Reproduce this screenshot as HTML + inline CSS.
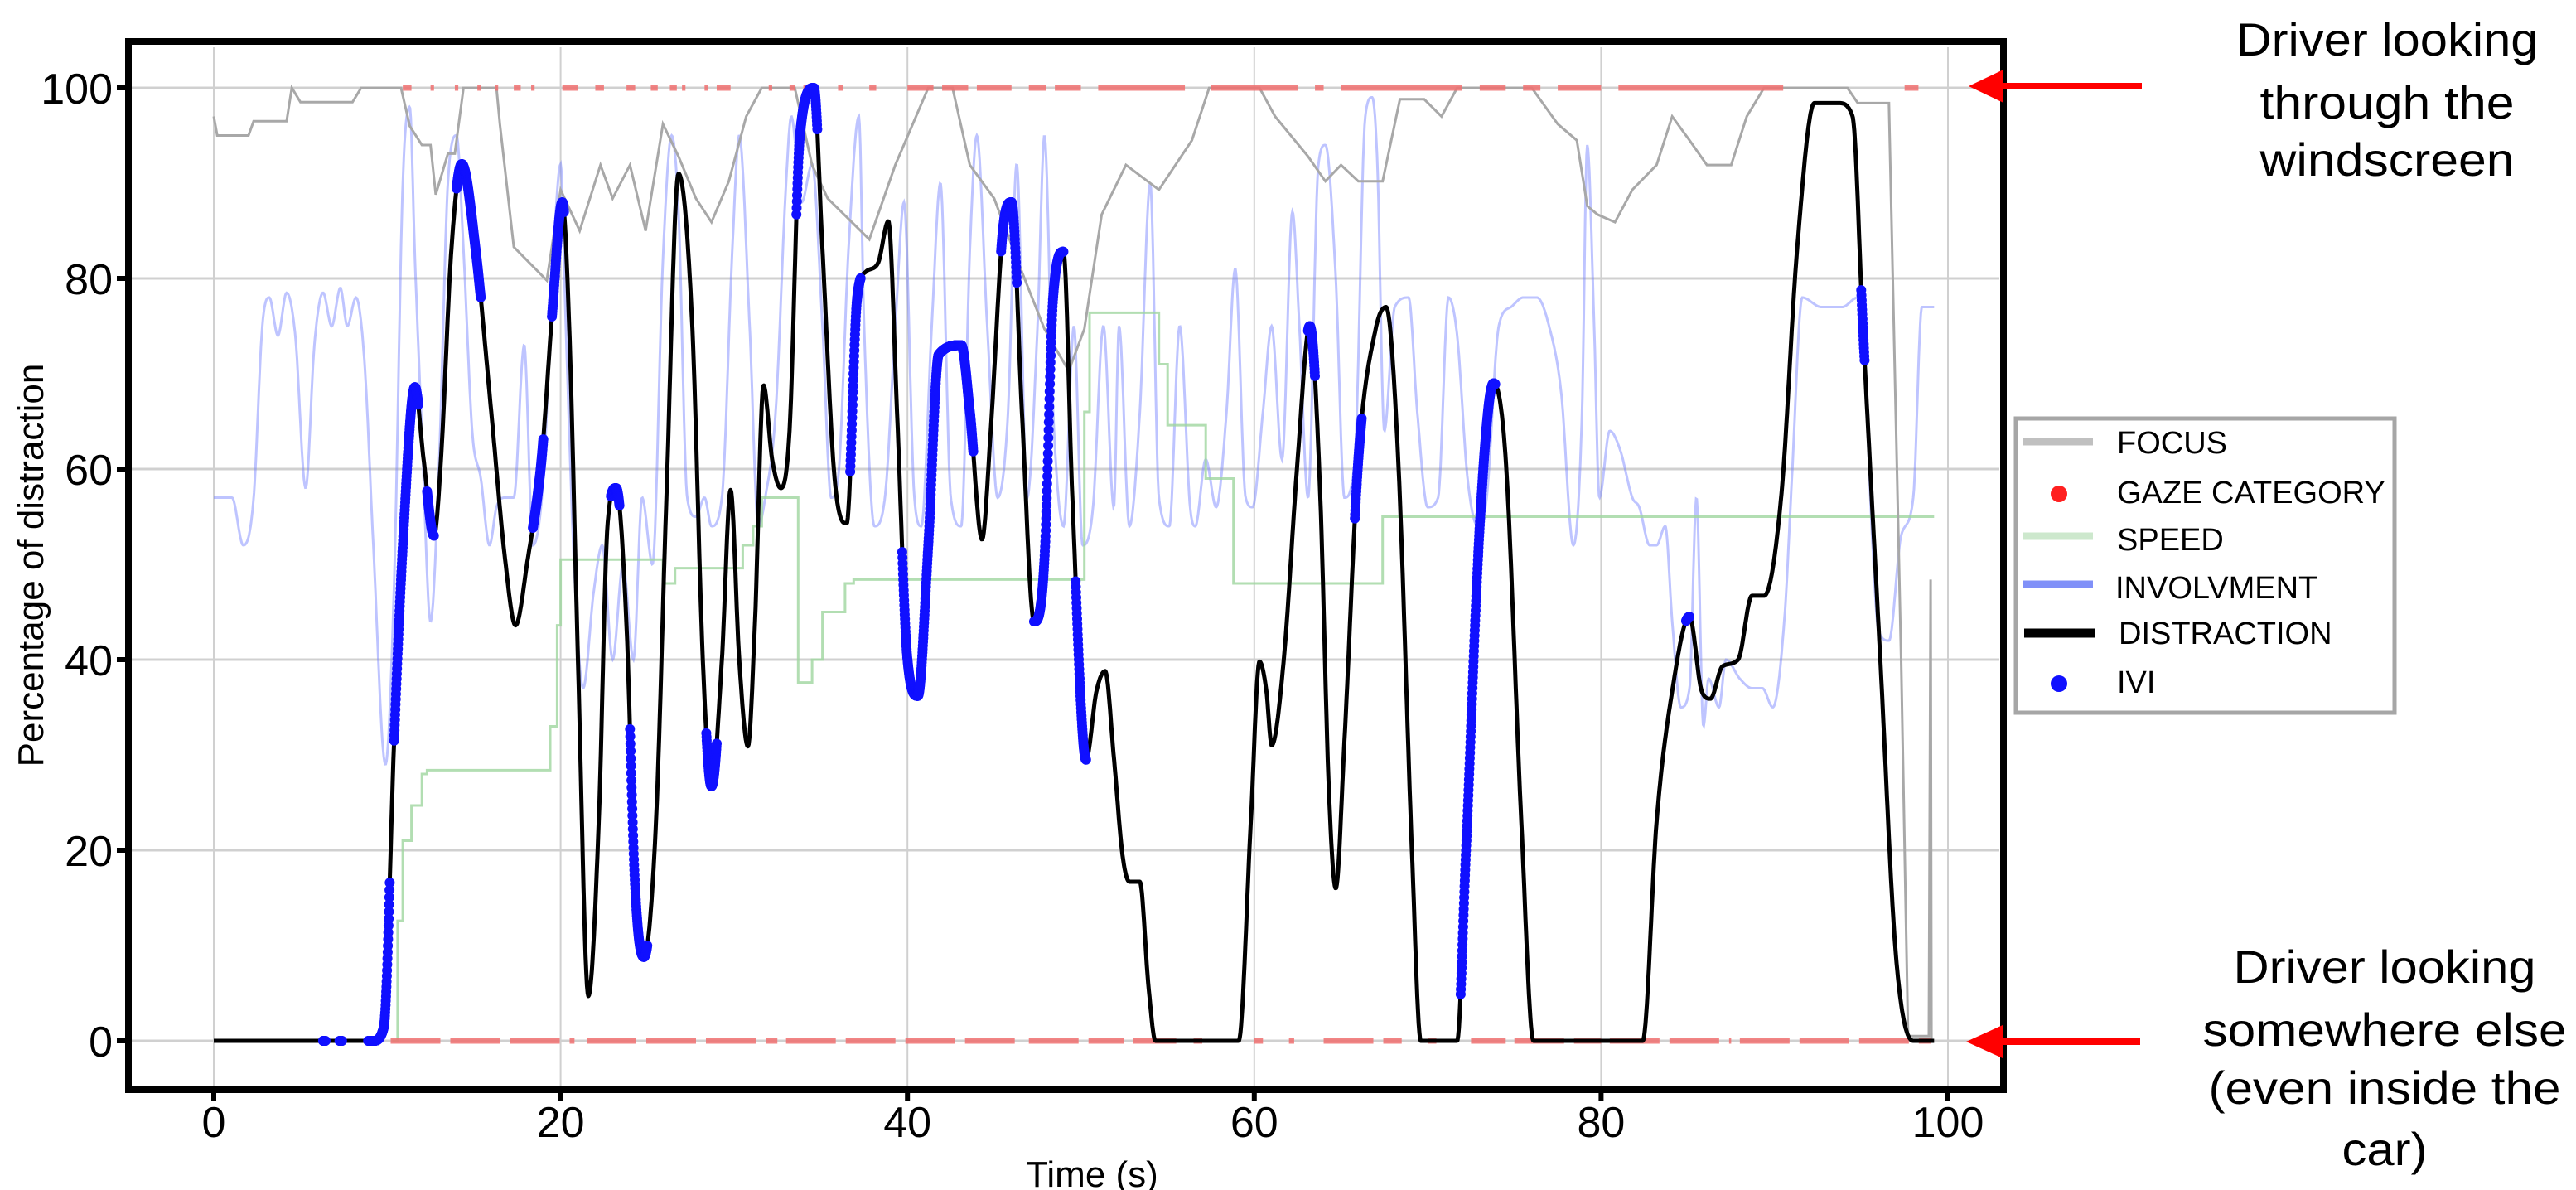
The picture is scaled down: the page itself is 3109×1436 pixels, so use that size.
<!DOCTYPE html>
<html><head><meta charset="utf-8">
<style>
html,body{margin:0;padding:0;background:#fff;}
svg{display:block;}
text{font-family:"Liberation Sans",sans-serif;fill:#000;}
</style></head>
<body>
<svg id="chart" width="3109" height="1436" viewBox="0 0 3109 1436" xmlns="http://www.w3.org/2000/svg">
<g id="grid"></g>
<g id="series"></g>
<g id="axes"></g>
<g>
  <line x1="2410" y1="104" x2="2585" y2="104" stroke="#ff0000" stroke-width="8"/>
  <polygon points="2376,104 2418,84 2418,124" fill="#ff0000"/>
  <text x="2881" y="67" font-size="56" text-anchor="middle" textLength="365" lengthAdjust="spacingAndGlyphs">Driver looking</text>
  <text x="2881" y="143" font-size="56" text-anchor="middle" textLength="307" lengthAdjust="spacingAndGlyphs">through the</text>
  <text x="2881" y="212" font-size="56" text-anchor="middle" textLength="307" lengthAdjust="spacingAndGlyphs">windscreen</text>
</g>
<g>
  <line x1="2410" y1="1257" x2="2583" y2="1257" stroke="#ff0000" stroke-width="8"/>
  <polygon points="2373,1257 2417,1237 2417,1277" fill="#ff0000"/>
  <text x="2878" y="1186" font-size="56" text-anchor="middle" textLength="365" lengthAdjust="spacingAndGlyphs">Driver looking</text>
  <text x="2878" y="1262" font-size="56" text-anchor="middle" textLength="439" lengthAdjust="spacingAndGlyphs">somewhere else</text>
  <text x="2878" y="1332" font-size="56" text-anchor="middle" textLength="425" lengthAdjust="spacingAndGlyphs">(even inside the</text>
  <text x="2878" y="1406" font-size="56" text-anchor="middle" textLength="103" lengthAdjust="spacingAndGlyphs">car)</text>
</g>
<g>
  <rect x="2433" y="505" width="457" height="355" fill="#fff" stroke="#a6a6a6" stroke-width="5"/>
  <g>
    <line x1="2441" y1="533" x2="2526" y2="533" stroke="#c0c0c0" stroke-width="9"/>
    <text x="2555" y="547" font-size="38">FOCUS</text>
  </g>
  <g>
    <circle cx="2485" cy="596" r="10" fill="#ff2020"/>
    <text x="2555" y="607" font-size="38">GAZE CATEGORY</text>
  </g>
  <g>
    <line x1="2441" y1="647" x2="2526" y2="647" stroke="#cde8cd" stroke-width="9"/>
    <text x="2555" y="664" font-size="38">SPEED</text>
  </g>
  <g>
    <line x1="2441" y1="705" x2="2526" y2="705" stroke="#8090f8" stroke-width="9"/>
    <text x="2553" y="722" font-size="38">INVOLVMENT</text>
  </g>
  <g>
    <line x1="2443" y1="764" x2="2528" y2="764" stroke="#000" stroke-width="11"/>
    <text x="2557" y="777" font-size="38">DISTRACTION</text>
  </g>
  <g>
    <circle cx="2485" cy="825" r="10" fill="#1010ff"/>
    <text x="2555" y="836" font-size="38">IVI</text>
  </g>
</g>
</svg>
<script>
// ---- data (time in s, value in %) ----
const xTicks = [0, 20, 40, 60, 80, 100];
const yTicks = [0, 20, 40, 60, 80, 100];

const distT = [0,9.2,9.8,10.4,10.9,11.6,12.1,12.7,13.1,13.7,14.3,15.1,16.0,16.8,17.4,18.1,18.9,19.5,20.1,20.5,21.0,21.6,22.2,22.7,23.2,23.8,24.3,24.8,25.5,26.1,26.8,27.6,28.2,28.7,29.3,29.8,30.3,30.8,31.2,31.7,32.2,32.7,33.2,33.8,34.6,35.1,35.8,36.5,37.1,37.6,38.3,38.9,39.4,40.0,40.6,41.2,41.8,43.1,43.6,44.3,44.8,45.5,46.0,46.6,47.3,47.9,48.4,49.0,49.5,50.3,50.9,51.4,51.9,52.4,52.8,53.4,53.9,54.3,59.1,59.8,60.3,60.7,61.0,61.7,62.5,63.2,63.8,64.3,64.7,65.2,66.0,67.0,67.6,68.3,69.1,69.6,71.7,72.2,73.0,73.8,74.5,75.4,76.1,82.4,83.2,84.1,85.1,85.8,86.3,87.0,87.9,88.7,89.4,90.4,91.3,92.3,93.7,94.5,95.1,96.1,97.0,98.0,99.2];
const distV = [0,0,1.4,31.5,52,68.6,61,53,61,83,92,83,66,50.5,43.6,50.5,61,76,88,74.7,40,4.7,23,54,58,43.6,16,8.8,23,57,91,74.7,40,26.7,40,57.8,40,30.9,43.6,68.8,61,58,64,95,100,83,59,54.3,78,80.7,81.6,86,66,40,36.2,52,72,73,66,52.6,64,85,88,66,44,50.5,78,82.8,57.4,29.5,36.7,38.8,29.8,19.5,16.7,16.7,5.7,0,0,23,39.8,36.7,31,40,61,75,57.4,26.4,16,31.5,61,74.7,77,61,19.5,0,0,19.5,54,69,61,23,0,0,23,36.7,44.5,36.7,35.9,39.3,40,46.7,46.7,57.4,83,98.4,98.4,97,74.7,40,9,0,0];

const focusT = [0,0.2,2.0,2.3,4.2,4.5,5.0,8.0,8.5,10.8,11.3,12.0,12.5,12.8,13.5,13.9,14.4,16.3,16.5,17.3,19.2,20.0,21.1,22.3,23.0,24.0,24.9,25.9,26.8,27.8,28.7,29.7,30.7,31.6,33.5,34.5,35.4,37.3,37.8,39.3,41.2,42.6,43.6,45.0,46.4,47.9,49.3,50.2,51.2,52.6,54.5,56.4,57.4,60.3,61.2,63.1,64.1,65.0,66.0,67.4,68.4,69.8,70.8,71.7,76.0,77.5,78.6,79.2,79.8,80.8,81.8,83.2,84.1,85.1,86.1,87.5,88.4,89.4,94.2,94.8,96.6,97.3,97.7,98.9,99.0,99.05];
const focusV = [97,95,95,96.5,96.5,100,98.5,98.5,100,100,96,94,94,88.8,93.1,93.1,100,100,96.2,83.3,79.8,89.3,85,91.9,88.4,91.9,85,96.2,92.8,88.4,85.9,90.2,97,100,100,91.9,88.4,85,84.1,91.9,100,100,91.9,88.4,81.6,74.7,70.3,74.7,86.7,91.9,89.3,94.5,100,100,97,92.8,90.2,91.9,90.2,90.2,98.8,98.8,97,100,100,96.2,94.5,87.6,86.7,85.9,89.3,91.9,97,94.5,91.9,91.9,97,100,100,98.4,98.4,40,0.5,0.5,48.4,0];

const speedT = [10.3,10.6,10.9,11.4,12.0,12.3,19.4,19.8,20.0,25.9,26.6,28.6,30.5,31.1,31.6,33.7,34.5,35.1,36.4,36.9,50.2,50.5,54.5,55.0,57.2,58.8,67.4,99.2];
const speedV = [0,12.6,21,24.7,28,28.4,33,43.6,50.5,48,49.6,49.6,52,54,57,37.6,40,45,48,48.4,66,76.4,71,64.6,59,48,55,55];

const invT = [0,1.05,1.7,2.3,2.8,3.2,3.7,4.2,4.7,5.3,5.8,6.3,6.8,7.3,7.7,8.2,8.7,9.2,9.9,10.4,10.9,11.3,11.6,12.0,12.5,13.0,13.5,14.0,14.4,14.9,15.4,15.9,16.3,16.8,17.3,17.9,18.4,19.0,19.6,20.0,20.3,20.8,21.3,21.9,22.4,23.0,23.6,24.2,24.7,25.3,25.9,26.4,26.8,27.3,27.8,28.3,28.7,29.3,29.9,30.3,30.9,31.4,31.8,32.4,33.0,33.3,33.9,34.5,35.1,35.6,36.0,36.6,37.2,37.5,38.1,38.7,39.3,39.8,40.4,40.8,41.4,41.9,42.5,43.1,43.6,44.0,44.6,45.2,45.8,46.3,46.9,47.5,47.9,48.4,49.0,49.6,50.1,50.7,51.3,51.9,52.2,52.8,53.4,54.0,54.5,55.1,55.7,56.3,56.6,57.2,57.8,58.4,58.9,59.5,59.9,60.5,61.0,61.6,62.2,62.6,63.1,63.7,64.1,64.7,65.2,65.8,66.4,66.8,67.1,67.5,68.1,68.9,69.4,70.0,70.6,71.2,71.7,72.3,72.9,73.4,74.1,74.8,75.5,76.3,77.0,77.7,78.4,78.9,79.2,79.6,79.9,80.5,81.1,81.8,82.2,82.8,83.2,83.7,84.1,84.6,85.1,85.5,85.9,86.2,86.8,87.2,88.0,88.7,89.3,89.9,90.6,91.0,91.6,92.7,93.9,94.8,95.2,95.6,96.0,96.6,97.3,98.0,98.5,99.2];
const invV = [57,57,52,57,75,78,74,78.5,74,58,73,78.5,75,79,75,78,71,52,29,48,90,98,82,64,44,61,90,95,83,64,59,52,56,57,57,73,52,59,83,92,75,49,37,47,52,40,50,40,57,50,82,95,87,57,55,57,54,57,83,95,75,54,57,66,90,97,88,92,75,57,59,83,97,75,54,57,75,88,57,54,75,90,57,54,83,95,75,57,66,92,57,75,95,66,54,75,52,56,75,56,75,54,66,90,57,54,75,56,54,61,56,66,81,57,56,66,75,61,87,75,57,92,94,80,57,61,97,99,92,64,77,78,66,56,57,78,74,59,54,57,75,77,78,78,75,68,52,66,94,75,57,64,62,57,56,52,52,54,44,35,37,57,33,38,35,40,38,37,37,35,45,59,78,77,77,78,71,54,43,42,53,57,77,77];

const gazeTop = [[10.9,11.4],[12.5,12.7],[13.9,14.1],[15.2,15.4],[16.2,16.4],[17.3,17.7],[18.3,18.5],[20.1,21.0],[22.0,22.5],[23.8,24.3],[25.2,25.6],[26.3,26.7],[27.0,27.2],[28.3,28.5],[29.0,29.8],[32.0,32.2],[33.2,33.5],[34.0,34.3],[36.0,36.3],[37.8,38.2],[40.0,41.5],[42.0,43.5],[44.0,46.0],[47.0,48.0],[48.5,50.0],[51.0,56.0],[57.5,62.5],[63.5,64.0],[65.0,72.0],[73.0,74.5],[75.5,76.5],[77.5,80.0],[81.0,90.5],[97.5,98.3]];
const gazeBottom = [[10.2,20.8],[21.5,32.5],[33.0,46.5],[47.0,52.5],[53.0,55.5],[56.5,57.0],[60.0,60.5],[62.0,62.3],[64.0,68.5],[70.0,70.5],[72.5,74.5],[75.0,80.0],[80.5,87.5],[88.0,99.0]];

const iviRanges = [[6.3,6.45],[7.25,7.4],[8.9,10.15],[10.4,11.8],[12.3,12.7],[14.0,15.4],[18.4,19.0],[19.5,20.2],[22.9,23.4],[24.0,25.0],[28.4,29.0],[33.6,34.8],[36.7,37.3],[39.7,43.8],[45.4,46.3],[47.3,49.0],[49.7,50.3],[63.1,63.5],[65.8,66.2],[71.9,73.9],[84.9,85.1],[95.0,95.2]];

// ---- scales ----
const X0 = 258, XS = 20.93;
const Y0 = 1256, YS = 11.5;
const xs = t => X0 + XS * t;
const ys = v => Y0 - YS * v;
const NS = "http://www.w3.org/2000/svg";
function mk(tag, attrs, parent) {
  const el = document.createElementNS(NS, tag);
  for (const k in attrs) el.setAttribute(k, attrs[k]);
  parent.appendChild(el);
  return el;
}

function monotone(T, V) {
  const n = T.length, d = [], m = new Array(n);
  for (let i = 0; i < n - 1; i++) d.push((V[i+1]-V[i])/(T[i+1]-T[i]));
  m[0] = d[0]; m[n-1] = d[n-2];
  for (let i = 1; i < n - 1; i++) m[i] = (d[i-1]*d[i] <= 0) ? 0 : (d[i-1]+d[i])/2;
  for (let i = 0; i < n - 1; i++) {
    if (d[i] === 0) { m[i] = 0; m[i+1] = 0; continue; }
    const a = m[i]/d[i], b = m[i+1]/d[i], s = a*a + b*b;
    if (s > 9) { const tt = 3/Math.sqrt(s); m[i] = tt*a*d[i]; m[i+1] = tt*b*d[i]; }
  }
  return function (t) {
    let i = 0;
    if (t <= T[0]) return V[0];
    if (t >= T[n-1]) return V[n-1];
    while (i < n - 2 && t > T[i+1]) i++;
    const h = T[i+1]-T[i], s = (t-T[i])/h;
    const h00 = 2*s*s*s-3*s*s+1, h10 = s*s*s-2*s*s+s, h01 = -2*s*s*s+3*s*s, h11 = s*s*s-s*s;
    return h00*V[i] + h10*h*m[i] + h01*V[i+1] + h11*h*m[i+1];
  };
}
function smoothPath(T, V) {
  const f = monotone(T, V);
  let d = "";
  for (let t = T[0]; t <= T[T.length-1] + 1e-9; t += 0.04) {
    d += (d ? "L" : "M") + xs(t).toFixed(1) + "," + ys(f(t)).toFixed(1);
  }
  return { d, f };
}
function linePath(T, V) {
  return T.map((t, i) => (i ? "L" : "M") + xs(t).toFixed(1) + "," + ys(V[i]).toFixed(1)).join("");
}
function stepPath(T, V) {
  let d = "M" + xs(T[0]) + "," + ys(V[0]);
  for (let i = 1; i < T.length; i++) {
    d += "L" + xs(T[i]).toFixed(1) + "," + ys(V[i-1]).toFixed(1);
    d += "L" + xs(T[i]).toFixed(1) + "," + ys(V[i]).toFixed(1);
  }
  return d;
}

const grid = document.getElementById("grid");
const series = document.getElementById("series");
const axes = document.getElementById("axes");

xTicks.forEach(t => {
  const g = mk("line", { x1: xs(t), y1: 57, x2: xs(t), y2: 1311, stroke: "#d0d0d0", "stroke-width": 2 }, grid);
  
  
});
yTicks.forEach(v => {
  const g = mk("line", { x1: 159, y1: ys(v), x2: 2413, y2: ys(v), stroke: "#d0d0d0", "stroke-width": 3 }, grid);
  
  
});

const inv = mk("path", { d: smoothPath(invT, invV).d, fill: "none", stroke: "#6f7dff", "stroke-opacity": 0.45, "stroke-width": 3 }, series);



const sp = mk("path", { d: stepPath(speedT, speedV), fill: "none", stroke: "#9fd69f", "stroke-opacity": 0.8, "stroke-width": 3 }, series);



const fo = mk("path", { d: linePath(focusT, focusV), fill: "none", stroke: "#a8a8a8", "stroke-width": 3 }, series);



gazeTop.forEach(r => {
  const s = mk("line", { x1: xs(r[0]), y1: ys(100), x2: xs(r[1]), y2: ys(100), stroke: "#f07070", "stroke-opacity": 0.85, "stroke-width": 7 }, series);
  
  
});
gazeBottom.forEach(r => {
  const s = mk("line", { x1: xs(r[0]), y1: ys(0), x2: xs(r[1]), y2: ys(0), stroke: "#f07070", "stroke-opacity": 0.85, "stroke-width": 7, "stroke-dasharray": "60,12" }, series);
  
  
});

const dist = smoothPath(distT, distV);
const dl = mk("path", { d: dist.d, fill: "none", stroke: "#000", "stroke-width": 5, "stroke-linejoin": "round" }, series);



iviRanges.forEach(r => {
  for (let t = r[0]; t <= r[1] + 1e-9; t += 0.012) {
    const c = mk("circle", { cx: xs(t).toFixed(1), cy: ys(dist.f(t)).toFixed(1), r: 6, fill: "#1010ff" }, series);
    
    
  }
});

const frame = mk("rect", { x: 155, y: 50, width: 2263, height: 1265, fill: "none", stroke: "#000", "stroke-width": 8 }, axes);



xTicks.forEach(t => {
  const tk = mk("line", { x1: xs(t), y1: 1315, x2: xs(t), y2: 1329, stroke: "#000", "stroke-width": 6 }, axes);
  
  
  const lb = mk("text", { x: xs(t), y: 1372, "font-size": 52, "text-anchor": "middle" }, axes);
  lb.textContent = t;
  
  
});
yTicks.forEach(v => {
  const tk = mk("line", { x1: 141, y1: ys(v), x2: 155, y2: ys(v), stroke: "#000", "stroke-width": 6 }, axes);
  
  
  const lb = mk("text", { x: 136, y: ys(v) + 19, "font-size": 52, "text-anchor": "end" }, axes);
  lb.textContent = v;
  
  
});
const xt = mk("text", { x: 1318, y: 1432, "font-size": 44, "text-anchor": "middle" }, axes);
xt.textContent = "Time (s)";


const yt = mk("text", { x: 0, y: 0, "font-size": 44, "text-anchor": "middle", transform: "translate(52,682) rotate(-90)" }, axes);
yt.textContent = "Percentage of distraction";


</script>
</body></html>
